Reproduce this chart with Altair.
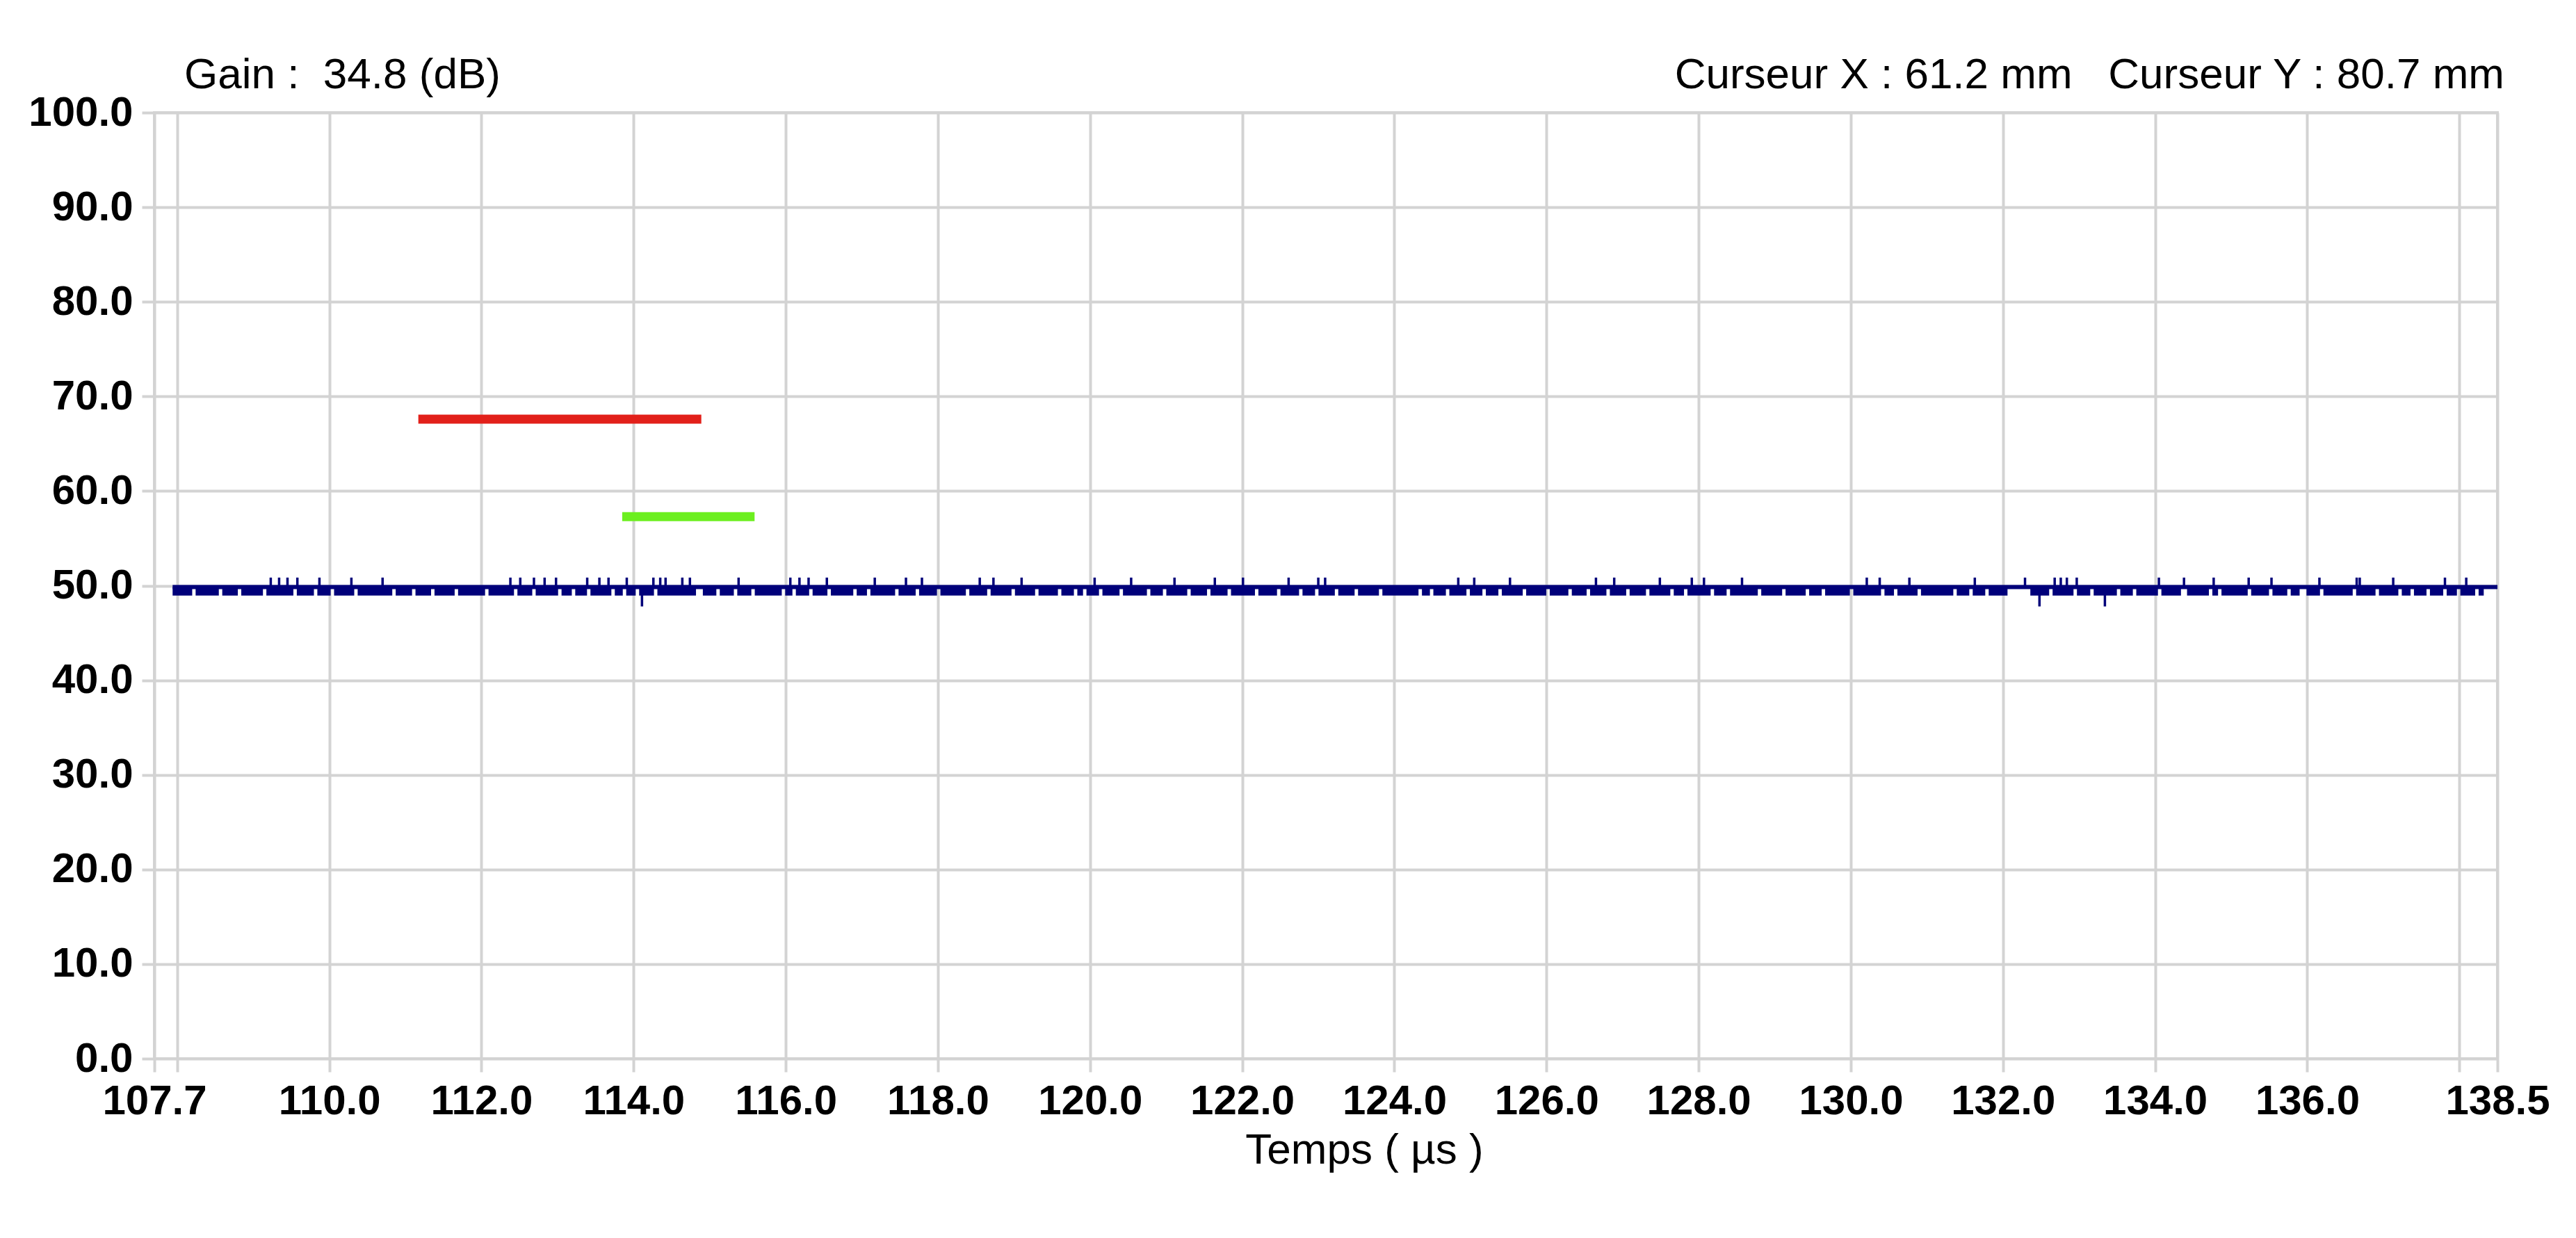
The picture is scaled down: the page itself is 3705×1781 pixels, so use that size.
import altair as alt
import pandas as pd

# ---------------- data ----------------
x_ticks = [107.7, 108.0, 110.0, 112.0, 114.0, 116.0, 118.0, 120.0, 122.0, 124.0,
           126.0, 128.0, 130.0, 132.0, 134.0, 136.0, 138.0, 138.5]
y_ticks = [0, 10, 20, 30, 40, 50, 60, 70, 80, 90, 100]

# echo signal (navy): a dense band between two levels, with notches, spikes and dips
sig_start = 107.94
sig_end = 138.32
line_end = 138.5
band_top = 49.85
band_bot = 48.95
spike_top = 50.85
dip_bottom = 47.8
notch_w = 0.045

notch_t = [108.22, 108.57, 108.82, 109.15, 109.55, 109.82, 110.04, 110.35, 110.85, 111.11,
           111.36, 111.67, 112.07, 112.45, 112.69, 113.03, 113.21, 113.41, 113.73, 113.88,
           114.05, 114.29, 115.11, 115.34, 115.57, 115.97, 116.11, 116.33, 116.57, 116.91,
           117.09, 117.46, 117.73, 118.01, 118.39, 118.67, 118.99, 119.30, 119.60, 119.81,
           119.93, 120.14, 120.41, 120.77, 120.98, 121.30, 121.56, 121.83, 122.19, 122.48,
           122.77, 122.98, 123.24, 123.50, 123.82, 124.34, 124.49, 124.70, 124.97, 125.18,
           125.39, 125.71, 126.02, 126.31, 126.55, 126.81, 127.07, 127.33, 127.65, 127.83,
           128.18, 128.39, 128.80, 129.12, 129.43, 129.64, 130.01, 130.42, 130.59, 130.90,
           131.37, 131.58, 131.79, 132.63, 132.95, 133.17, 133.52, 133.73, 134.06, 134.73,
           134.85, 135.24, 135.52, 135.76, 136.19, 136.62, 136.92, 137.22, 137.38, 137.59,
           137.81, 137.99, 138.23]
wide_notch_start = [114.82, 132.06, 134.34, 135.90]
wide_notch_end = [114.91, 132.36, 134.42, 135.99]

spike_t = [109.23, 109.34, 109.45, 109.58, 109.87, 110.29, 110.70, 112.38, 112.51, 112.69,
           112.83, 112.98, 113.39, 113.55, 113.67, 113.91, 114.26, 114.35, 114.42, 114.64,
           114.74, 115.38, 116.06, 116.18, 116.30, 116.54, 117.17, 117.58, 117.79, 118.55,
           118.73, 119.10, 120.06, 120.54, 121.11, 121.64, 122.01, 122.61, 123.00, 123.09,
           124.84, 125.05, 125.52, 126.65, 126.89, 127.49, 127.91, 128.07, 128.57, 130.21,
           130.38, 130.77, 131.63, 132.29, 132.68, 132.76, 132.84, 132.97, 134.05, 134.38,
           134.77, 135.23, 135.53, 136.16, 136.65, 136.69, 137.13, 137.81, 138.09]
dip_t = [114.11, 132.48, 133.34]

# gates
red_gate = {"x": 111.17, "x2": 114.89, "y": 67.6}
green_gate = {"x": 113.85, "x2": 115.59, "y": 57.3}

gain_text = "Gain :\u00a0 34.8 (dB)"
cursor_text = "Curseur X : 61.2 mm\u00a0\u00a0 Curseur Y : 80.7 mm"
x_title = "Temps ( µs )"

# ---------------- build tables ----------------
intervals = sorted([(c - notch_w / 2, c + notch_w / 2) for c in notch_t] +
                   list(zip(wide_notch_start, wide_notch_end)))
seg_s, seg_e = [], []
cur = sig_start
for a, b in intervals:
    if a > cur:
        seg_s.append(cur)
        seg_e.append(a)
    cur = max(cur, b)
if cur < sig_end:
    seg_s.append(cur)
    seg_e.append(sig_end)
band_df = pd.DataFrame({"s": seg_s, "e": seg_e, "lo": band_bot, "hi": band_top})
line_df = pd.DataFrame({"s": [sig_start], "e": [line_end], "v": [band_top]})
spike_df = pd.DataFrame({"t": spike_t, "lo": band_top, "hi": spike_top})
dip_df = pd.DataFrame({"t": dip_t, "lo": dip_bottom, "hi": band_top})
gate_df = pd.DataFrame([dict(red_gate, c="red"), dict(green_gate, c="green")])

NAVY = "#00007a"
GRID = "#d3d3d3"
FONT = "Liberation Sans"

x_axis = alt.Axis(values=x_ticks, format=".1f",
                  labelExpr="(datum.value == 108 || datum.value == 138) ? '' : format(datum.value, '.1f')",
                  tickSize=19, labelPadding=13, labelOverlap=False, labelFlush=False,
                  labelBound=False, title=x_title, titleX=1740, titleAlign="center",
                  titlePadding=10)
y_axis = alt.Axis(values=y_ticks, format=".1f", tickSize=18, labelPadding=13,
                  labelOverlap=False, title=None)
x_scale = alt.Scale(domain=[107.7, 138.5], nice=False, zero=False)
y_scale = alt.Scale(domain=[0, 100], nice=False)


def X(f):
    return alt.X(f, type="quantitative", scale=x_scale, axis=x_axis)


def Y(f):
    return alt.Y(f, type="quantitative", scale=y_scale, axis=y_axis)


band = alt.Chart(band_df).mark_rect(color=NAVY).encode(
    x=X("s"), x2="e", y=Y("lo"), y2="hi")
upper = alt.Chart(line_df).mark_rule(color=NAVY, strokeWidth=6).encode(
    x=X("s"), x2="e", y=Y("v"))
spikes = alt.Chart(spike_df).mark_rule(color=NAVY, strokeWidth=3.5).encode(
    x=X("t"), y=Y("lo"), y2="hi")
dips = alt.Chart(dip_df).mark_rule(color=NAVY, strokeWidth=3.5).encode(
    x=X("t"), y=Y("lo"), y2="hi")
gates = alt.Chart(gate_df).mark_rule(strokeWidth=13).encode(
    x=X("x"), x2="x2", y=Y("y"),
    color=alt.Color("c:N", scale=alt.Scale(domain=["red", "green"],
                                             range=["#e2201a", "#6cef1f"]), legend=None))
gain = alt.Chart(pd.DataFrame({"t": [gain_text]})).mark_text(
    align="left", baseline="alphabetic", font=FONT, fontSize=62, color="black").encode(
    text="t:N", x=alt.value(43), y=alt.value(-35))
cursor = alt.Chart(pd.DataFrame({"t": [cursor_text]})).mark_text(
    align="right", baseline="alphabetic", font=FONT, fontSize=62, color="black").encode(
    text="t:N", x=alt.value(3380), y=alt.value(-35))

chart = alt.layer(band, upper, spikes, dips, gates, gain, cursor).properties(
    width=3370, height=1361,
    autosize=alt.AutoSizeParams(type="none"),
    padding={"left": 214, "top": 154, "right": 100, "bottom": 240},
    background="white",
).configure_view(
    stroke=GRID, strokeWidth=4
).configure_axis(
    grid=True, gridColor=GRID, gridWidth=4, gridOpacity=1,
    tickColor=GRID, tickWidth=4, domain=False,
    labelFont=FONT, labelFontSize=60, labelFontWeight="bold", labelColor="black",
    titleFont=FONT, titleFontSize=62, titleFontWeight="normal", titleColor="black",
)

chart.save("out.html", embed_options={"renderer": "svg", "actions": False})
